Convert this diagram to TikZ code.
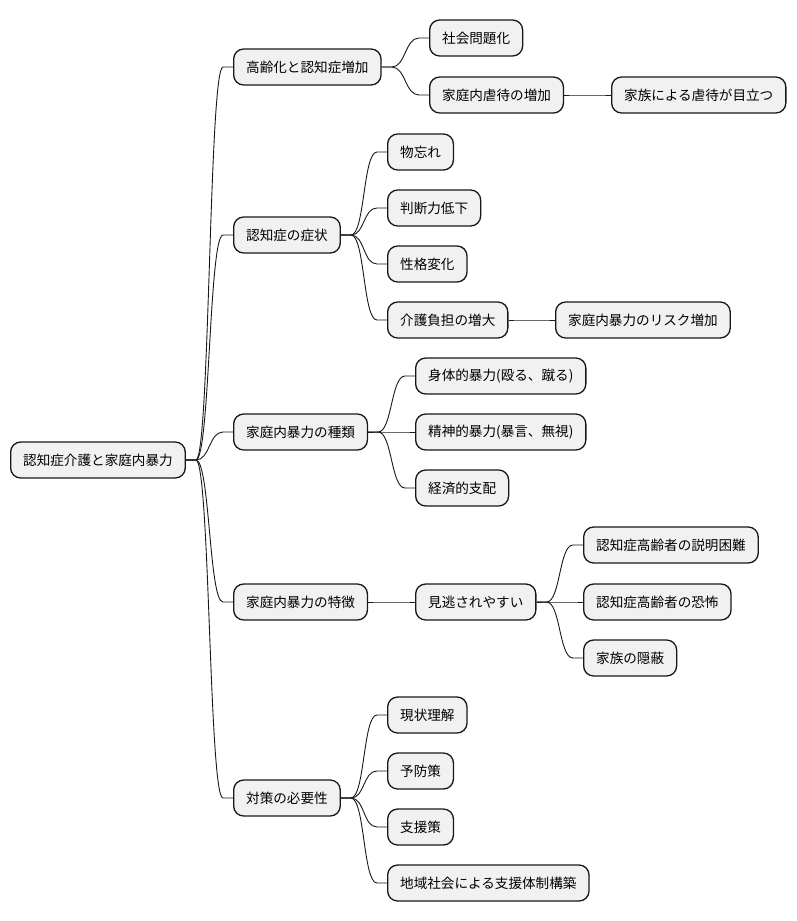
\documentclass[tikz,border=0pt]{standalone}
\usepackage{fontspec}
\newfontfamily\jpfont{Noto Sans CJK JP}
\usepackage{tikz}
\usetikzlibrary{calc}

\definecolor{boxfill}{HTML}{F1F1F1}
\definecolor{boxline}{HTML}{181818}

\tikzset{
  topic/.style={draw=boxline,fill=boxfill,line width=1.3pt,rounded corners=10pt,
    anchor=west,minimum height=36pt,inner xsep=12.5pt,inner ysep=0pt,
    font=\jpfont\fontsize{13.6}{16}\selectfont},
  branch/.style={draw=boxline,line width=0.9pt}
}
% parent -> child, short stubs and a soft S-curve
\newcommand{\branchto}[2]{%
  \draw[branch] (#1.east) -- ++(10,0)
    .. controls +(14,0) and +(-14,0) .. ($(#2.west)+(-10,0)$) -- (#2.west);}

\begin{document}
\begin{tikzpicture}[x=1pt,y=-1pt]
  \useasboundingbox (0,0) rectangle (796,921);

  \node[topic] (root) at (10,460) {認知症介護と家庭内暴力};

  \node[topic] (aging) at (233,67) {高齢化と認知症増加};
  \node[topic] (social) at (429,38) {社会問題化};
  \node[topic] (abuse) at (429,95) {家庭内虐待の増加};
  \node[topic] (family) at (611,95) {家族による虐待が目立つ};

  \node[topic] (symptom) at (233,235) {認知症の症状};
  \node[topic] (forget) at (387,152) {物忘れ};
  \node[topic] (judge) at (387,208) {判断力低下};
  \node[topic] (persona) at (387,264) {性格変化};
  \node[topic] (burden) at (387,320) {介護負担の増大};
  \node[topic] (risk) at (555,320) {家庭内暴力のリスク増加};

  \node[topic] (kinds) at (233,432) {家庭内暴力の種類};
  \node[topic] (physical) at (415,376) {身体的暴力(殴る、蹴る)};
  \node[topic] (mental) at (415,432) {精神的暴力(暴言、無視)};
  \node[topic] (money) at (415,488) {経済的支配};

  \node[topic] (traits) at (233,602) {家庭内暴力の特徴};
  \node[topic] (hidden) at (415,602) {見逃されやすい};
  \node[topic] (explain) at (583,545) {認知症高齢者の説明困難};
  \node[topic] (fear) at (583,602) {認知症高齢者の恐怖};
  \node[topic] (conceal) at (583,658) {家族の隠蔽};

  \node[topic] (needs) at (233,798) {対策の必要性};
  \node[topic] (grasp) at (387,715) {現状理解};
  \node[topic] (prevent) at (387,771) {予防策};
  \node[topic] (support) at (387,827) {支援策};
  \node[topic] (community) at (387,883) {地域社会による支援体制構築};

  \foreach \p/\c in {root/aging, root/symptom, root/kinds, root/traits, root/needs,
      aging/social, aging/abuse, abuse/family,
      symptom/forget, symptom/judge, symptom/persona, symptom/burden, burden/risk,
      kinds/physical, kinds/mental, kinds/money,
      traits/hidden, hidden/explain, hidden/fear, hidden/conceal,
      needs/grasp, needs/prevent, needs/support, needs/community}
    {\branchto{\p}{\c}}
\end{tikzpicture}
\end{document}
